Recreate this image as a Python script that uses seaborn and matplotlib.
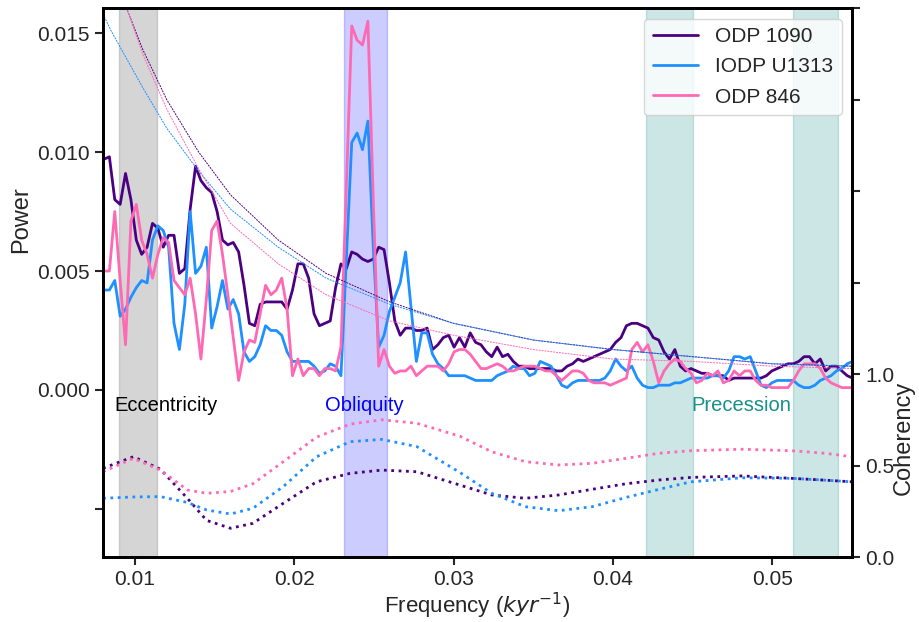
import numpy as np
import matplotlib

matplotlib.use("Agg")
import matplotlib.pyplot as plt
import seaborn as sns

# frequency grid of the spectra (kyr^-1)
freq = np.round(0.00806 + 0.000338 * np.arange(140), 6)

power_1090 = [
    0.0097, 0.0098, 0.0080, 0.0078, 0.0091, 0.0080, 0.0063, 0.0057, 0.0060, 0.0070,
    0.0068, 0.0060, 0.0065, 0.0065, 0.0049, 0.0051, 0.0076, 0.0094, 0.0088, 0.0085,
    0.0083, 0.0075, 0.0063, 0.0061, 0.0062, 0.0058, 0.0044, 0.0028, 0.0027, 0.0036,
    0.0037, 0.0037, 0.0037, 0.0037, 0.0034, 0.0042, 0.0053, 0.0053, 0.0047, 0.0032,
    0.0027, 0.0028, 0.0029, 0.0043, 0.0053, 0.0051, 0.0058, 0.0057, 0.0055, 0.0054,
    0.0055, 0.0060, 0.0059, 0.0045, 0.0029, 0.0023, 0.0026, 0.0026, 0.0025, 0.0025,
    0.0026, 0.0017, 0.0019, 0.0022, 0.0023, 0.0018, 0.0022, 0.0018, 0.0024, 0.0020,
    0.0019, 0.0016, 0.0014, 0.0018, 0.0014, 0.0015, 0.0012, 0.0010, 0.0010, 0.0009,
    0.0009, 0.0009, 0.0009, 0.0009, 0.0008, 0.0008, 0.0010, 0.0011, 0.0013, 0.0012,
    0.0013, 0.0014, 0.0015, 0.0016, 0.0017, 0.0020, 0.0022, 0.0027, 0.0028, 0.0028,
    0.0027, 0.0026, 0.0022, 0.0021, 0.0016, 0.0013, 0.0017, 0.0010, 0.0008, 0.0009,
    0.0008, 0.0007, 0.0007, 0.0006, 0.0006, 0.0006, 0.0004, 0.0005, 0.0005, 0.0005,
    0.0005, 0.0005, 0.0005, 0.0006, 0.0008, 0.0009, 0.0010, 0.0011, 0.0011, 0.0012,
    0.0014, 0.0014, 0.0011, 0.0013, 0.0008, 0.0010, 0.0010, 0.0008, 0.0006, 0.0005,
]

power_u1313 = [
    0.0042, 0.0042, 0.0046, 0.0031, 0.0034, 0.0039, 0.0043, 0.0046, 0.0045, 0.0063,
    0.0069, 0.0067, 0.0060, 0.0028, 0.0017, 0.0036, 0.0075, 0.0049, 0.0052, 0.0060,
    0.0026, 0.0035, 0.0046, 0.0034, 0.0038, 0.0032, 0.0016, 0.0012, 0.0014, 0.0019,
    0.0027, 0.0025, 0.0025, 0.0023, 0.0016, 0.0012, 0.0012, 0.0012, 0.0012, 0.0010,
    0.0007, 0.0008, 0.0011, 0.0010, 0.0006, 0.0055, 0.0104, 0.0108, 0.0101, 0.0113,
    0.0060, 0.0018, 0.0023, 0.0033, 0.0039, 0.0045, 0.0058, 0.0035, 0.0012, 0.0024,
    0.0024, 0.0015, 0.0011, 0.0009, 0.0006, 0.0006, 0.0006, 0.0006, 0.0005, 0.0004,
    0.0004, 0.0004, 0.0004, 0.0006, 0.0007, 0.0008, 0.0010, 0.0009, 0.0009, 0.0006,
    0.0007, 0.0012, 0.0011, 0.0010, 0.0006, 0.0002, 0.0001, 0.0003, 0.0004, 0.0004,
    0.0004, 0.0004, 0.0004, 0.0005, 0.0008, 0.0013, 0.0010, 0.0008, 0.0010, 0.0005,
    0.0002, 0.0001, 0.0001, 0.0002, 0.0002, 0.0002, 0.0003, 0.0003, 0.0004, 0.0005,
    0.0005, 0.0005, 0.0005, 0.0006, 0.0006, 0.0005, 0.0008, 0.0014, 0.0014, 0.0013,
    0.0014, 0.0008, 0.0002, 0.0001, 0.0003, 0.0004, 0.0004, 0.0004, 0.0004, 0.0002,
    0.0001, 0.0001, 0.0002, 0.0004, 0.0005, 0.0006, 0.0008, 0.0009, 0.0011, 0.0012,
]

power_846 = [
    0.0050, 0.0050, 0.0075, 0.0046, 0.0019, 0.0071, 0.0078, 0.0063, 0.0057, 0.0047,
    0.0057, 0.0064, 0.0062, 0.0046, 0.0043, 0.0040, 0.0047, 0.0032, 0.0013, 0.0038,
    0.0067, 0.0071, 0.0057, 0.0040, 0.0022, 0.0004, 0.0016, 0.0021, 0.0020, 0.0032,
    0.0044, 0.0040, 0.0042, 0.0047, 0.0034, 0.0006, 0.0013, 0.0006, 0.0009, 0.0009,
    0.0006, 0.0009, 0.0009, 0.0008, 0.0018, 0.0085, 0.0153, 0.0147, 0.0145, 0.0155,
    0.0080, 0.0010, 0.0017, 0.0010, 0.0007, 0.0008, 0.0008, 0.0010, 0.0006, 0.0008,
    0.0010, 0.0010, 0.0010, 0.0008, 0.0011, 0.0016, 0.0017, 0.0017, 0.0015, 0.0012,
    0.0009, 0.0009, 0.0010, 0.0011, 0.0010, 0.0008, 0.0008, 0.0009, 0.0010, 0.0010,
    0.0010, 0.0009, 0.0008, 0.0008, 0.0006, 0.0004, 0.0006, 0.0008, 0.0008, 0.0007,
    0.0004, 0.0003, 0.0003, 0.0003, 0.0002, 0.0003, 0.0004, 0.0005, 0.0017, 0.0020,
    0.0016, 0.0019, 0.0012, 0.0003, 0.0008, 0.0011, 0.0013, 0.0012, 0.0009, 0.0007,
    0.0003, 0.0004, 0.0007, 0.0006, 0.0008, 0.0003, 0.0004, 0.0008, 0.0006, 0.0008,
    0.0008, 0.0004, 0.0002, 0.0002, 0.0001, 0.0001, 0.0001, 0.0001, 0.0004, 0.0008,
    0.0011, 0.0011, 0.0011, 0.0009, 0.0005, 0.0003, 0.0002, 0.0001, 0.0001, 0.0001,
]

# red-noise significance levels (thin dashed)
sig_freq = [0.0080, 0.0085, 0.0095, 0.0105, 0.0120, 0.0140, 0.0160, 0.0190,
            0.0220, 0.0260, 0.0300, 0.0350, 0.0400, 0.0450, 0.0500, 0.0550]
sig_1090 = [0.0215, 0.0188, 0.0160, 0.0143, 0.0122, 0.0100, 0.0082, 0.0063,
            0.0049, 0.0037, 0.0028, 0.0021, 0.0017, 0.0014, 0.0011, 0.0010]
sig_u1313 = [0.0158, 0.0151, 0.0139, 0.0127, 0.0110, 0.0092, 0.0076, 0.0060,
             0.0047, 0.0036, 0.0028, 0.0021, 0.0017, 0.0014, 0.0011, 0.0010]
sig_846 = [0.0220, 0.0190, 0.0160, 0.0141, 0.0118, 0.0093, 0.0070, 0.0053,
           0.0040, 0.0029, 0.0023, 0.0017, 0.0013, 0.0012, 0.0010, 0.0009]

# coherency (right axis, dotted)
coh_freq = [0.0080, 0.0099, 0.0116, 0.0133, 0.0145, 0.0160, 0.0174, 0.0193,
            0.0214, 0.0235, 0.0255, 0.0277, 0.0304, 0.0324, 0.0345, 0.0366,
            0.0387, 0.0408, 0.0429, 0.0449, 0.0481, 0.0512, 0.0533, 0.0550]
coh_1090 = [0.485, 0.548, 0.480, 0.320, 0.200, 0.157, 0.184, 0.293,
            0.411, 0.457, 0.475, 0.466, 0.393, 0.339, 0.321, 0.339,
            0.370, 0.400, 0.421, 0.435, 0.443, 0.430, 0.420, 0.411]
coh_u1313 = [0.321, 0.328, 0.330, 0.298, 0.257, 0.235, 0.266, 0.384,
             0.548, 0.630, 0.643, 0.603, 0.462, 0.348, 0.275, 0.253,
             0.275, 0.325, 0.370, 0.411, 0.433, 0.430, 0.420, 0.411]
coh_846 = [0.466, 0.539, 0.475, 0.366, 0.348, 0.358, 0.400, 0.520,
           0.655, 0.726, 0.750, 0.731, 0.660, 0.575, 0.521, 0.503,
           0.512, 0.539, 0.567, 0.581, 0.589, 0.581, 0.567, 0.548]

sites = ["ODP 1090", "IODP U1313", "ODP 846"]
colors = ["indigo", "dodgerblue", "hotpink"]

# orbital bands
ecc_band = (0.0090, 0.0114)
obl_band = (0.0231, 0.0258)
prec_bands = [(0.0421, 0.0450), (0.0513, 0.0541)]

sns.set_style("ticks")
plt.rcParams["font.family"] = ["Liberation Sans", "DejaVu Sans"]

fig = plt.figure(figsize=(9.2, 6.22), dpi=100)
ax = fig.add_axes([0.112, 0.1045, 0.814, 0.8825])

ax.axvspan(*ecc_band, color="gray", alpha=0.33, lw=1)
ax.axvspan(*obl_band, color="blue", alpha=0.2, lw=1)
for b in prec_bands:
    ax.axvspan(*b, color="teal", alpha=0.2, lw=1)

for name, p, c in zip(sites, [power_1090, power_u1313, power_846], colors):
    sns.lineplot(x=freq, y=p, ax=ax, color=c, lw=2, label=name)

for s, c in zip([sig_1090, sig_u1313, sig_846], colors):
    sns.lineplot(x=sig_freq, y=s, ax=ax, color=c, lw=0.7, ls=(0, (2, 1)), legend=False)

ax.text(0.00869, -0.00067, "Eccentricity", color="black", fontsize=14.5, va="center", ha="left")
ax.text(0.02437, -0.00067, "Obliquity", color="blue", fontsize=14.5, va="center", ha="center")
ax.text(0.04804, -0.00067, "Precession", color="#17908a", fontsize=14.5, va="center", ha="center")

ax.set_xlim(0.008, 0.055)
ax.set_ylim(-0.00702, 0.01605)
ax.set_yticks([-0.005, 0.0, 0.005, 0.010, 0.015])
ax.set_yticklabels(["", "0.000", "0.005", "0.010", "0.015"])
ax.set_xticks([0.01, 0.02, 0.03, 0.04, 0.05])
ax.set_xticklabels(["0.01", "0.02", "0.03", "0.04", "0.05"])
ax.set_xlabel("Frequency ($kyr^{-1}$)", fontsize=16, labelpad=1)
ax.set_ylabel("Power", fontsize=17)
ax.yaxis.set_label_coords(-0.095, 0.614)
ax.tick_params(labelsize=15, length=6, width=1.5)
for sp in ax.spines.values():
    sp.set_linewidth(2)
    sp.set_color("black")

leg = ax.legend(loc="upper right", fontsize=15, framealpha=0.8, borderpad=0.4,
                handlelength=2.2, handletextpad=0.8, labelspacing=0.55)

ax2 = ax.twinx()
for cvals, c in zip([coh_1090, coh_u1313, coh_846], colors):
    sns.lineplot(x=coh_freq, y=cvals, ax=ax2, color=c, lw=2, ls=":", legend=False)
ax2.set_ylim(0, 3.0)
ax2.set_yticks([0, 0.5, 1.0, 1.5, 2.0, 2.5, 3.0])
ax2.set_yticklabels(["0.0", "0.5", "1.0", "", "", "", ""])
ax2.set_ylabel("Coherency", fontsize=17)
ax2.yaxis.set_label_coords(1.054, 0.217)
ax2.tick_params(labelsize=15, length=6, width=1.5)
for sp in ax2.spines.values():
    sp.set_linewidth(2)
    sp.set_color("black")

fig.savefig("out.png", dpi=100)
